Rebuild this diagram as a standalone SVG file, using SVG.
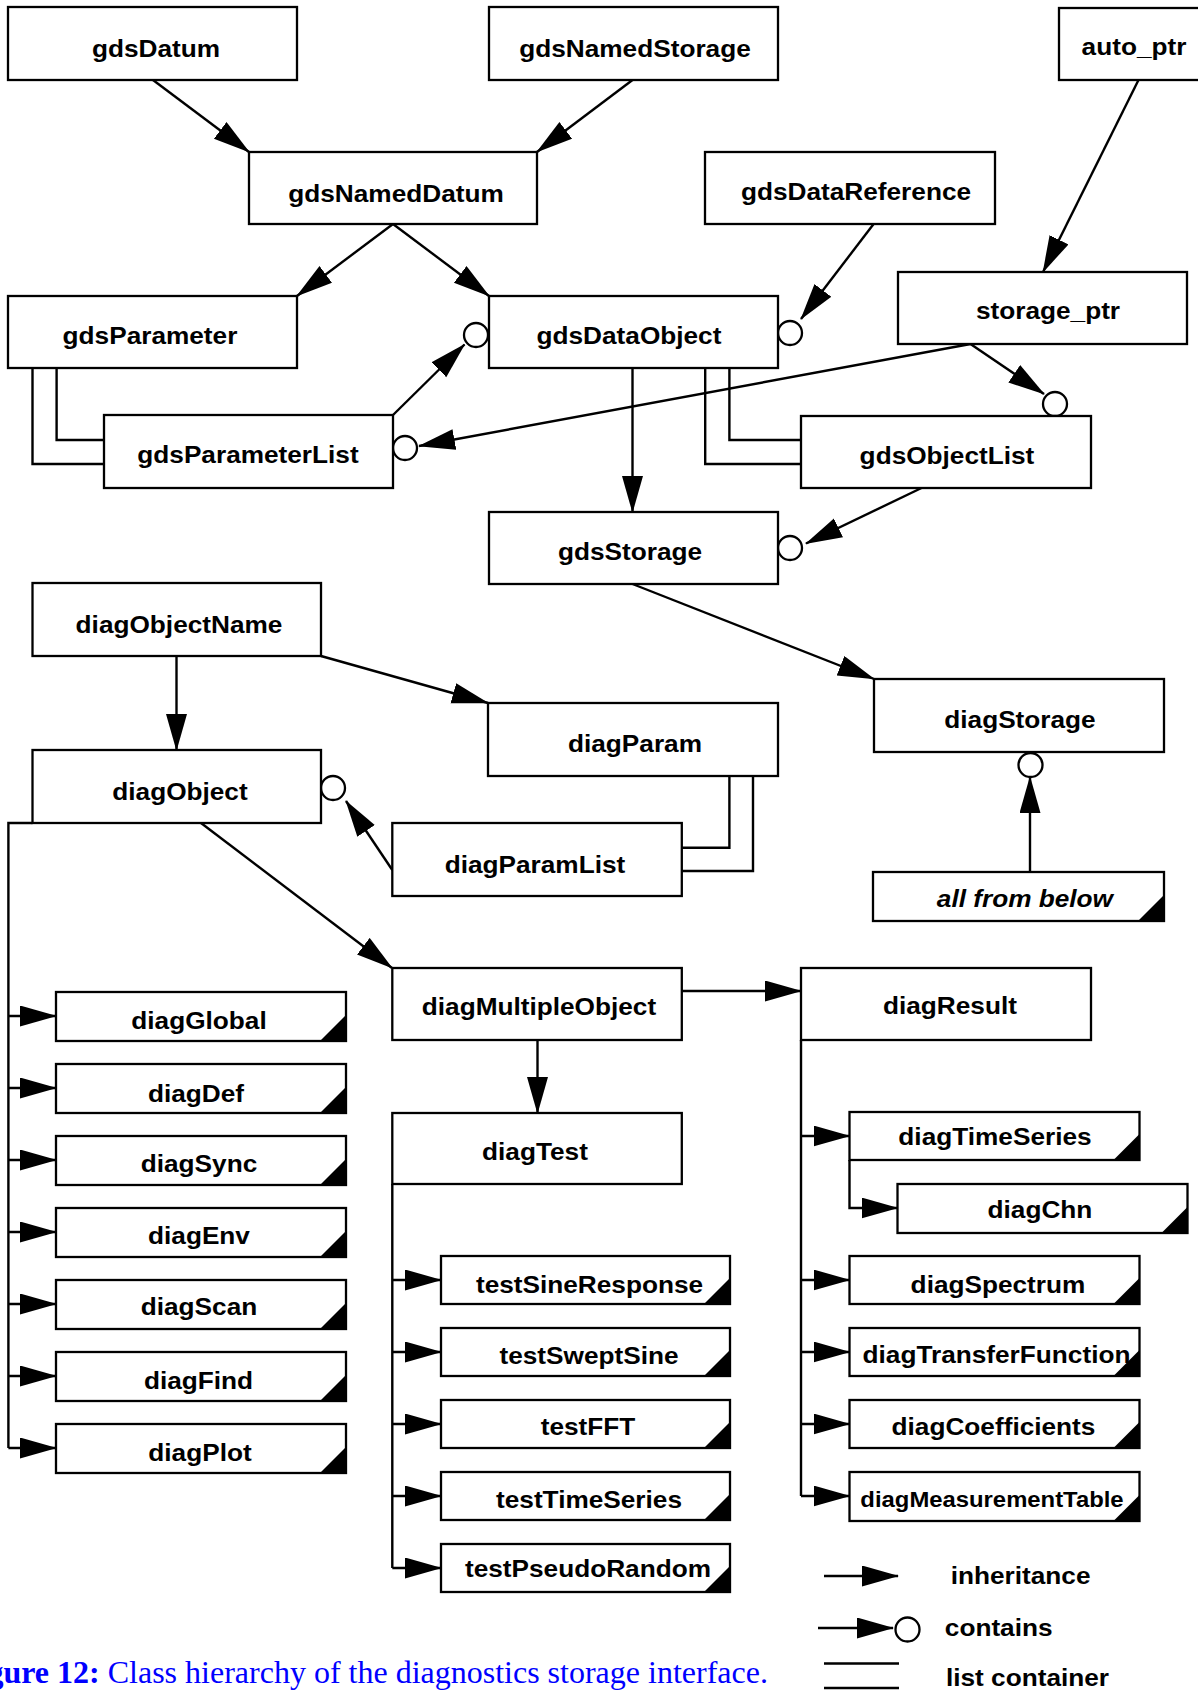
<svg xmlns="http://www.w3.org/2000/svg" width="1198" height="1690" viewBox="0 0 1198 1690">
<style>
.box{fill:#fff;stroke:#000;stroke-width:2.3}
.lbl{font-family:"Liberation Sans",Arial,sans-serif;font-weight:bold;font-size:24.5px;text-anchor:middle;fill:#000;transform-box:fill-box;transform-origin:center;transform:scaleX(1.07)}
.it{font-style:italic}
.sm{font-size:22.3px}
.ln{fill:none;stroke:#000;stroke-width:2.4}
.inh{marker-end:url(#tri)}
.circ{fill:#fff;stroke:#000;stroke-width:2.3}
.corner{fill:#000}
.cap{font-family:"Liberation Serif","Times New Roman",serif;font-size:32px;fill:#0000ff}
</style>
<defs>
<marker id="tri" markerUnits="userSpaceOnUse" markerWidth="40" markerHeight="24" refX="36" refY="10.5" orient="auto">
<path d="M0,0 L37,10.5 L0,21 z" fill="#000"/>
</marker>
</defs>
<rect width="1198" height="1690" fill="#fff"/>

<g id="connectors">
<path class="ln inh" d="M153,80 L249,152"/>
<path class="ln inh" d="M632.5,80 L537,152"/>
<path class="ln inh" d="M393,224 L297,296"/>
<path class="ln inh" d="M393,224 L489,296"/>
<path class="ln inh" d="M1138.5,80 L1043,272"/>
<path class="ln inh" d="M632.5,368 L632.5,512"/>
<path class="ln inh" d="M632.5,584 L874,679"/>
<path class="ln inh" d="M176.5,656 L176.5,750"/>
<path class="ln inh" d="M321,656 L488,703"/>
<path class="ln inh" d="M201,823 L392,968"/>
<path class="ln inh" d="M682,991 L801,991"/>
<path class="ln inh" d="M537.5,1040 L537.5,1113"/>
<path class="ln inh" d="M393,415 L464.5,344.5"/>
<path class="ln inh" d="M873.6,224 L801,319"/>
<path class="ln inh" d="M970.5,344 L419,446"/>
<path class="ln inh" d="M970.5,344 L1044,394"/>
<path class="ln inh" d="M921.5,488 L806,543.5"/>
<path class="ln inh" d="M392.3,870 L346,801"/>
<path class="ln inh" d="M1030,872 L1030,777"/>
<path class="ln" d="M56.6,368 V440 H104"/>
<path class="ln" d="M32.5,368 V464 H104"/>
<path class="ln" d="M729.4,368 V440 H801"/>
<path class="ln" d="M705.2,368 V464 H801"/>
<path class="ln" d="M729.4,776 V847.7 H682"/>
<path class="ln" d="M753,776 V871 H682"/>
<path class="ln" d="M32.5,823 H8.4 V1448"/>
<path class="ln inh" d="M8.4,1016 H56"/>
<path class="ln inh" d="M8.4,1088 H56"/>
<path class="ln inh" d="M8.4,1160 H56"/>
<path class="ln inh" d="M8.4,1232 H56"/>
<path class="ln inh" d="M8.4,1304 H56"/>
<path class="ln inh" d="M8.4,1376 H56"/>
<path class="ln inh" d="M8.4,1448 H56"/>
<path class="ln" d="M392.3,1184 V1568"/>
<path class="ln inh" d="M392.3,1280 H441"/>
<path class="ln inh" d="M392.3,1352 H441"/>
<path class="ln inh" d="M392.3,1424 H441"/>
<path class="ln inh" d="M392.3,1496 H441"/>
<path class="ln inh" d="M392.3,1568 H441"/>
<path class="ln" d="M801,1040 V1496"/>
<path class="ln inh" d="M801,1136 H849.5"/>
<path class="ln inh" d="M801,1280 H849.5"/>
<path class="ln inh" d="M801,1352 H849.5"/>
<path class="ln inh" d="M801,1424 H849.5"/>
<path class="ln inh" d="M801,1496 H849.5"/>
<path class="ln inh" d="M849.5,1160 V1208 H897.5"/>
</g>

<g id="circles">
<circle class="circ" cx="476" cy="335" r="12"/>
<circle class="circ" cx="790" cy="333" r="12"/>
<circle class="circ" cx="405" cy="448" r="12"/>
<circle class="circ" cx="1055" cy="404" r="12"/>
<circle class="circ" cx="790" cy="548" r="12"/>
<circle class="circ" cx="1030.5" cy="765" r="12"/>
<circle class="circ" cx="333" cy="788" r="12"/>
</g>

<g id="gdsDatum"><rect class="box" x="8" y="7" width="289" height="73"/><text class="lbl" x="156" y="57.5">gdsDatum</text></g>
<g id="gdsNamedStorage"><rect class="box" x="489" y="7" width="289" height="73"/><text class="lbl" x="635" y="57.5">gdsNamedStorage</text></g>
<g id="auto_ptr"><rect class="box" x="1059" y="8" width="160" height="72"/><text class="lbl" x="1134" y="55">auto_ptr</text></g>
<g id="gdsNamedDatum"><rect class="box" x="249" y="152" width="288" height="72"/><text class="lbl" x="396" y="202">gdsNamedDatum</text></g>
<g id="gdsDataReference"><rect class="box" x="705" y="152" width="290" height="72"/><text class="lbl" x="856" y="200">gdsDataReference</text></g>
<g id="storage_ptr"><rect class="box" x="898" y="272" width="289" height="72"/><text class="lbl" x="1048" y="319">storage_ptr</text></g>
<g id="gdsParameter"><rect class="box" x="8" y="296" width="289" height="72"/><text class="lbl" x="150" y="344">gdsParameter</text></g>
<g id="gdsDataObject"><rect class="box" x="489" y="296" width="289" height="72"/><text class="lbl" x="629" y="344">gdsDataObject</text></g>
<g id="gdsParameterList"><rect class="box" x="104" y="415" width="289" height="73"/><text class="lbl" x="248" y="463">gdsParameterList</text></g>
<g id="gdsObjectList"><rect class="box" x="801" y="416" width="290" height="72"/><text class="lbl" x="947" y="464">gdsObjectList</text></g>
<g id="gdsStorage"><rect class="box" x="489" y="512" width="289" height="72"/><text class="lbl" x="630" y="560">gdsStorage</text></g>
<g id="diagObjectName"><rect class="box" x="32.5" y="583" width="288.5" height="73"/><text class="lbl" x="179" y="633">diagObjectName</text></g>
<g id="diagStorage"><rect class="box" x="874" y="679" width="290" height="73"/><text class="lbl" x="1020" y="728">diagStorage</text></g>
<g id="diagParam"><rect class="box" x="488" y="703" width="290" height="73"/><text class="lbl" x="635" y="752">diagParam</text></g>
<g id="diagObject"><rect class="box" x="32.5" y="750" width="288.5" height="73"/><text class="lbl" x="180" y="800">diagObject</text></g>
<g id="diagParamList"><rect class="box" x="392.3" y="823" width="289.5" height="73"/><text class="lbl" x="535" y="873">diagParamList</text></g>
<g id="allFromBelow"><rect class="box" x="873" y="872" width="291" height="49"/><polygon class="corner" points="1138,921 1164,895 1164,921"/><text class="lbl it" x="1025" y="907">all from below</text></g>
<g id="diagMultipleObject"><rect class="box" x="392.3" y="968" width="289.5" height="72"/><text class="lbl" x="539" y="1015">diagMultipleObject</text></g>
<g id="diagResult"><rect class="box" x="801" y="968" width="290" height="72"/><text class="lbl" x="950" y="1014">diagResult</text></g>
<g id="diagTest"><rect class="box" x="392.3" y="1113" width="289.5" height="71"/><text class="lbl" x="535" y="1160">diagTest</text></g>

<g id="diagGlobal"><rect class="box" x="56" y="992" width="290" height="49"/><polygon class="corner" points="320,1041 346,1015 346,1041"/><text class="lbl" x="199" y="1029">diagGlobal</text></g>
<g id="diagDef"><rect class="box" x="56" y="1064" width="290" height="49"/><polygon class="corner" points="320,1113 346,1087 346,1113"/><text class="lbl" x="196" y="1102">diagDef</text></g>
<g id="diagSync"><rect class="box" x="56" y="1136" width="290" height="49"/><polygon class="corner" points="320,1185 346,1159 346,1185"/><text class="lbl" x="199" y="1172">diagSync</text></g>
<g id="diagEnv"><rect class="box" x="56" y="1208" width="290" height="49"/><polygon class="corner" points="320,1257 346,1231 346,1257"/><text class="lbl" x="199" y="1244">diagEnv</text></g>
<g id="diagScan"><rect class="box" x="56" y="1280" width="290" height="49"/><polygon class="corner" points="320,1329 346,1303 346,1329"/><text class="lbl" x="199" y="1315">diagScan</text></g>
<g id="diagFind"><rect class="box" x="56" y="1352" width="290" height="49"/><polygon class="corner" points="320,1401 346,1375 346,1401"/><text class="lbl" x="198.5" y="1389">diagFind</text></g>
<g id="diagPlot"><rect class="box" x="56" y="1424" width="290" height="49"/><polygon class="corner" points="320,1473 346,1447 346,1473"/><text class="lbl" x="200" y="1461">diagPlot</text></g>

<g id="testSineResponse"><rect class="box" x="441" y="1256" width="289" height="48"/><polygon class="corner" points="704,1304 730,1278 730,1304"/><text class="lbl" x="589.5" y="1293">testSineResponse</text></g>
<g id="testSweptSine"><rect class="box" x="441" y="1328" width="289" height="48"/><polygon class="corner" points="704,1376 730,1350 730,1376"/><text class="lbl" x="589" y="1364">testSweptSine</text></g>
<g id="testFFT"><rect class="box" x="441" y="1400" width="289" height="48"/><polygon class="corner" points="704,1448 730,1422 730,1448"/><text class="lbl" x="588" y="1435">testFFT</text></g>
<g id="testTimeSeries"><rect class="box" x="441" y="1472" width="289" height="48"/><polygon class="corner" points="704,1520 730,1494 730,1520"/><text class="lbl" x="589" y="1508">testTimeSeries</text></g>
<g id="testPseudoRandom"><rect class="box" x="441" y="1544" width="289" height="48"/><polygon class="corner" points="704,1592 730,1566 730,1592"/><text class="lbl" x="588" y="1577">testPseudoRandom</text></g>

<g id="diagTimeSeries"><rect class="box" x="849.5" y="1112" width="290" height="48"/><polygon class="corner" points="1113.5,1160 1139.5,1134 1139.5,1160"/><text class="lbl" x="995" y="1145">diagTimeSeries</text></g>
<g id="diagChn"><rect class="box" x="897.5" y="1184" width="290" height="49"/><polygon class="corner" points="1161.5,1233 1187.5,1207 1187.5,1233"/><text class="lbl" x="1040" y="1218">diagChn</text></g>
<g id="diagSpectrum"><rect class="box" x="849.5" y="1256" width="290" height="48"/><polygon class="corner" points="1113.5,1304 1139.5,1278 1139.5,1304"/><text class="lbl" x="998" y="1293">diagSpectrum</text></g>
<g id="diagTransferFunction"><rect class="box" x="849.5" y="1328" width="290" height="48"/><polygon class="corner" points="1113.5,1376 1139.5,1350 1139.5,1376"/><text class="lbl" x="996.5" y="1363">diagTransferFunction</text></g>
<g id="diagCoefficients"><rect class="box" x="849.5" y="1400" width="290" height="48"/><polygon class="corner" points="1113.5,1448 1139.5,1422 1139.5,1448"/><text class="lbl" x="993.5" y="1435">diagCoefficients</text></g>
<g id="diagMeasurementTable"><rect class="box" x="849.5" y="1472" width="290" height="49"/><polygon class="corner" points="1113.5,1521 1139.5,1495 1139.5,1521"/><text class="lbl sm" x="992" y="1507">diagMeasurementTable</text></g>

<g id="legend">
<path class="ln inh" d="M824,1576 H898"/>
<text class="lbl" x="1020.6" y="1584">inheritance</text>
<path class="ln inh" d="M818,1628 H893"/>
<circle class="circ" cx="907.5" cy="1629.5" r="12"/>
<text class="lbl" x="998.7" y="1636">contains</text>
<path class="ln" d="M824,1663.5 H899 M824,1688 H899"/>
<text class="lbl" x="1027.5" y="1686">list container</text>
</g>

<text class="cap" x="-41" y="1683"><tspan font-weight="bold">Figure 12:</tspan> Class hierarchy of the diagnostics storage interface.</text>
</svg>
